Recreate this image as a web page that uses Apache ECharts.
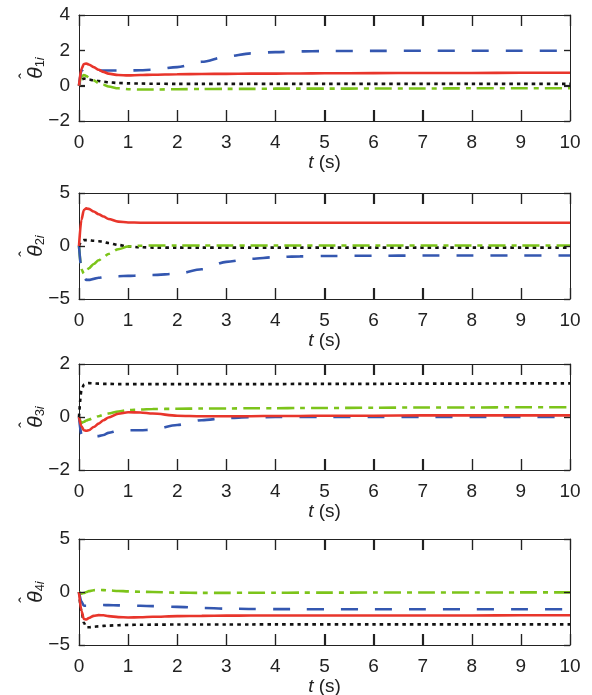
<!DOCTYPE html>
<html>
<head>
<meta charset="utf-8">
<script src="https://cdn.jsdelivr.net/npm/echarts@6/dist/echarts.min.js"></script>
<style>
  html, body { margin: 0; padding: 0; background: #fff; }
  #main { width: 592px; height: 695px; }
</style>
</head>
<body>
<div id="main"></div>
<script>
// time samples (s)
var tSec = [0, 0.05, 0.1, 0.15, 0.2, 0.3, 0.4, 0.5, 0.6, 0.8, 1, 1.25, 1.5, 2, 2.5, 3, 3.5, 4, 4.5, 5, 6, 7, 8, 9, 10];

// theta_1i
var th1Red   = [0, 0.95, 1.22, 1.25, 1.2, 1.05, 0.9, 0.78, 0.68, 0.6, 0.58, 0.6, 0.62, 0.65, 0.66, 0.67, 0.68, 0.68, 0.69, 0.7, 0.71, 0.72, 0.72, 0.73, 0.73];
var th1Blue  = [0, 0.85, 0.95, 0.9, 0.88, 0.87, 0.86, 0.86, 0.86, 0.86, 0.86, 0.87, 0.9, 1.05, 1.35, 1.65, 1.83, 1.9, 1.94, 1.96, 1.97, 1.98, 1.98, 1.98, 1.98];
var th1Green = [0, 0.5, 0.6, 0.55, 0.45, 0.3, 0.15, 0.05, -0.05, -0.15, -0.2, -0.22, -0.22, -0.2, -0.19, -0.18, -0.18, -0.17, -0.17, -0.17, -0.16, -0.16, -0.15, -0.15, -0.15];
var th1Black = [0, 0.35, 0.4, 0.38, 0.35, 0.3, 0.26, 0.22, 0.19, 0.15, 0.13, 0.12, 0.11, 0.1, 0.1, 0.1, 0.1, 0.1, 0.1, 0.1, 0.1, 0.1, 0.1, 0.1, 0.1];

// theta_2i
var th2Red   = [0, 2.5, 3.4, 3.55, 3.5, 3.25, 3.0, 2.78, 2.55, 2.3, 2.22, 2.2, 2.2, 2.2, 2.2, 2.2, 2.2, 2.2, 2.2, 2.2, 2.2, 2.2, 2.2, 2.2, 2.2];
var th2Blue  = [0, -2.2, -3.0, -3.2, -3.2, -3.1, -3.0, -2.95, -2.9, -2.85, -2.82, -2.78, -2.74, -2.62, -2.2, -1.5, -1.2, -1.05, -0.98, -0.94, -0.92, -0.9, -0.9, -0.9, -0.9];
var th2Green = [0, -2.2, -2.6, -2.4, -2.1, -1.7, -1.35, -1.05, -0.75, -0.3, -0.05, 0.02, 0.05, 0.05, 0.05, 0.05, 0.05, 0.05, 0.05, 0.05, 0.05, 0.05, 0.05, 0.05, 0.05];
var th2Black = [0, 0.45, 0.55, 0.55, 0.55, 0.5, 0.45, 0.38, 0.28, 0.1, -0.05, -0.12, -0.15, -0.15, -0.15, -0.15, -0.15, -0.15, -0.15, -0.15, -0.15, -0.15, -0.15, -0.15, -0.15];

// theta_3i
var th3Red   = [0, -0.35, -0.5, -0.52, -0.5, -0.38, -0.25, -0.12, -0.02, 0.12, 0.18, 0.17, 0.13, 0.05, 0.03, 0.03, 0.03, 0.04, 0.04, 0.05, 0.05, 0.06, 0.06, 0.06, 0.06];
var th3Blue  = [0, -0.65, -0.72, -0.72, -0.72, -0.73, -0.72, -0.68, -0.6, -0.52, -0.5, -0.5, -0.48, -0.3, -0.12, -0.04, -0.01, 0, 0, 0, 0, 0, 0, 0, 0];
var th3Green = [0, -0.22, -0.18, -0.13, -0.1, -0.03, 0.03, 0.08, 0.13, 0.21, 0.26, 0.28, 0.3, 0.31, 0.32, 0.32, 0.33, 0.33, 0.34, 0.34, 0.35, 0.36, 0.36, 0.37, 0.37];
var th3Black = [0, 1.0, 1.22, 1.27, 1.28, 1.27, 1.26, 1.25, 1.25, 1.24, 1.24, 1.24, 1.24, 1.24, 1.24, 1.24, 1.24, 1.24, 1.25, 1.25, 1.25, 1.26, 1.26, 1.27, 1.27];

// theta_4i
var th4Red   = [0, -1.8, -2.55, -2.6, -2.45, -2.25, -2.18, -2.2, -2.28, -2.37, -2.4, -2.38, -2.34, -2.28, -2.25, -2.23, -2.22, -2.22, -2.22, -2.22, -2.22, -2.21, -2.21, -2.2, -2.2];
var th4Blue  = [0, -0.9, -1.3, -1.3, -1.28, -1.25, -1.23, -1.23, -1.24, -1.26, -1.28, -1.3, -1.33, -1.4, -1.5, -1.57, -1.6, -1.62, -1.62, -1.63, -1.63, -1.63, -1.63, -1.63, -1.63];
var th4Green = [0, -0.15, -0.1, 0.0, 0.08, 0.17, 0.19, 0.18, 0.15, 0.1, 0.06, 0.02, 0.0, -0.06, -0.08, -0.08, -0.07, -0.07, -0.06, -0.06, -0.05, -0.05, -0.05, -0.04, -0.04];
var th4Black = [0, -1.8, -2.9, -3.33, -3.33, -3.28, -3.24, -3.2, -3.17, -3.13, -3.1, -3.09, -3.08, -3.07, -3.06, -3.06, -3.06, -3.05, -3.05, -3.05, -3.05, -3.05, -3.05, -3.05, -3.05];

var xTicks = [0, 10, 1];
var yRanges = [[-2, 4, 2], [-5, 5, 5], [-2, 2, 2], [-5, 5, 5]];
var panels = [
  [th1Red, th1Blue, th1Green, th1Black],
  [th2Red, th2Blue, th2Green, th2Black],
  [th3Red, th3Blue, th3Green, th3Black],
  [th4Red, th4Blue, th4Green, th4Black]
];

var gridTops = [15, 193, 364, 539];
var FONT = 'Liberation Sans, Arial, sans-serif';
var INK = '#222';
var lineStyles = [
  { color: '#e8352b', type: 'solid' },
  { color: '#3457b0', type: [17, 17] },
  { color: '#7cc41a', type: [17, 6, 5, 6] },
  { color: '#111111', type: [3.5, 4] }
];

function minus(v) { return String(v).replace('-', '\u2212'); }
function steps(min, max, step) {
  var out = [];
  for (var v = min; v <= max + 1e-9; v += step) out.push(v);
  return out;
}
function seg(x1, y1, x2, y2) {
  return { type: 'line', shape: { x1: x1, y1: y1, x2: x2, y2: y2 }, style: { stroke: INK, lineWidth: 1.2 } };
}

var chart = echarts.init(document.getElementById('main'));

var grids = [], xAxes = [], yAxes = [], series = [];
gridTops.forEach(function (top, i) {
  grids.push({ left: 79, right: 22, top: top, height: 106, containLabel: false, outerBoundsMode: 'none' });
  var line = { show: true, onZero: false, lineStyle: { color: INK, width: 1 } };
  var tickX = { show: true, inside: true, length: 11, lineStyle: { color: INK, width: 1.2 } };
  var tickY = { show: true, inside: true, length: 6, lineStyle: { color: INK, width: 1.2 } };
  var r = yRanges[i];
  var xi = xAxes.length, yi = yAxes.length;
  xAxes.push({
    type: 'value', gridIndex: i, min: xTicks[0], max: xTicks[1], interval: xTicks[2], position: 'bottom',
    axisLine: line, splitLine: { show: false }, axisTick: tickX,
    axisLabel: { color: INK, fontSize: 19, lineHeight: 18, fontFamily: FONT, margin: 13 },
    name: '{i|t} (s)', nameLocation: 'middle', nameGap: 33, nameMoveOverlap: false,
    nameTextStyle: { color: INK, fontSize: 19, lineHeight: 18, fontFamily: FONT, rich: { i: { fontStyle: 'italic', fontSize: 19, lineHeight: 18, fontFamily: FONT, color: INK } } }
  }, {
    type: 'value', gridIndex: i, min: xTicks[0], max: xTicks[1], interval: xTicks[2], position: 'top',
    axisLine: line, splitLine: { show: false }, axisTick: tickX, axisLabel: { show: false }
  });
  yAxes.push({
    type: 'value', gridIndex: i, min: r[0], max: r[1], interval: r[2], position: 'left',
    axisLine: line, splitLine: { show: false }, axisTick: tickY,
    axisLabel: { color: INK, fontSize: 19, fontFamily: FONT, margin: 9, formatter: minus },
    name: '{h|\u02c6}\n{th|θ}{s|' + (i + 1) + '}{si|i}', nameLocation: 'middle', nameRotate: 90, nameGap: 32, nameMoveOverlap: false,
    nameTextStyle: {
      color: INK, fontFamily: FONT, align: 'center',
      rich: {
        h: { fontSize: 17, fontFamily: FONT, color: INK, lineHeight: 2, padding: [0, 16, 0, 0] },
        th: { fontSize: 21, fontStyle: 'italic', fontFamily: FONT, color: INK, lineHeight: 20, verticalAlign: 'bottom' },
        s: { fontSize: 13, fontFamily: FONT, color: INK, lineHeight: 13, verticalAlign: 'bottom' },
        si: { fontSize: 13, fontStyle: 'italic', fontFamily: FONT, color: INK, lineHeight: 13, verticalAlign: 'bottom' }
      }
    }
  }, {
    type: 'value', gridIndex: i, min: r[0], max: r[1], interval: r[2], position: 'right',
    axisLine: line, splitLine: { show: false }, axisTick: tickY, axisLabel: { show: false }
  });

  // inside tick marks on all four sides, placed through the axes' own scales
  series.push({
    type: 'custom', xAxisIndex: xi, yAxisIndex: yi, silent: true, z: 20, clip: false,
    data: steps(xTicks[0], xTicks[1], xTicks[2]).map(function (v) { return [v, r[0]]; }),
    renderItem: function (params, api) {
      var pb = api.coord([api.value(0), r[0]]);
      var pt = api.coord([api.value(0), r[1]]);
      var x = Math.round(pb[0]) + 0.5;
      return { type: 'group', children: [seg(x, pb[1], x, pb[1] - 11), seg(x, pt[1], x, pt[1] + 11)] };
    }
  }, {
    type: 'custom', xAxisIndex: xi, yAxisIndex: yi, silent: true, z: 20, clip: false,
    data: steps(r[0], r[1], r[2]).map(function (v) { return [xTicks[0], v]; }),
    renderItem: function (params, api) {
      var pl = api.coord([xTicks[0], api.value(1)]);
      var pr = api.coord([xTicks[1], api.value(1)]);
      var y = Math.round(pl[1]) + 0.5;
      return { type: 'group', children: [seg(pl[0], y, pl[0] + 6, y), seg(pr[0], y, pr[0] - 6, y)] };
    }
  });

  panels[i].forEach(function (vals, k) {
    series.push({
      type: 'line', xAxisIndex: xi, yAxisIndex: yi, showSymbol: false, smooth: 0.3, smoothMonotone: 'x',
      z: 10 - k,
      lineStyle: { color: lineStyles[k].color, type: lineStyles[k].type, width: 2.6 },
      data: tSec.map(function (t, j) { return [t, vals[j]]; })
    });
  });
});

chart.setOption({
  animation: false,
  grid: grids,
  xAxis: xAxes,
  yAxis: yAxes,
  series: series
});
</script>
</body>
</html>
